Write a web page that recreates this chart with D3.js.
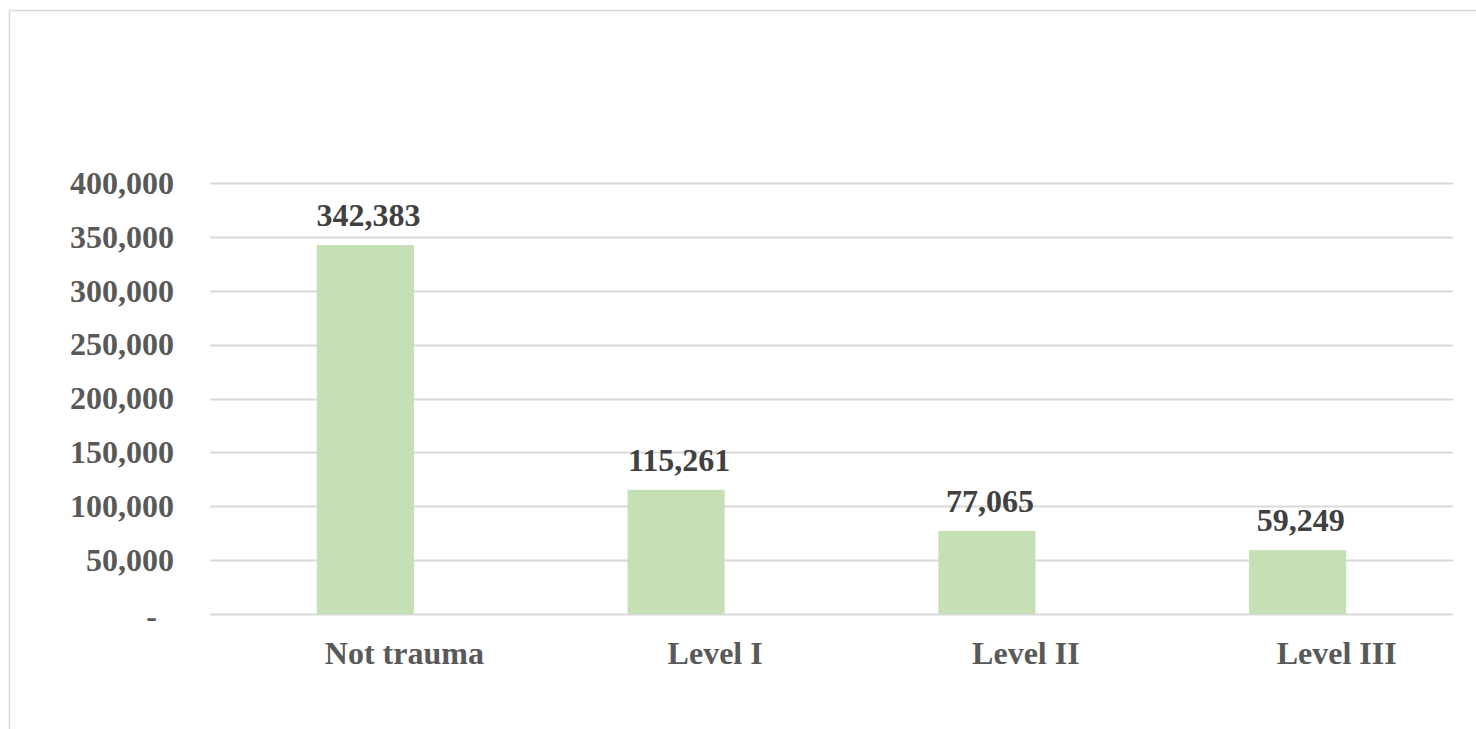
<!DOCTYPE html>
<html>
<head>
<meta charset="utf-8">
<script src="https://cdn.jsdelivr.net/npm/d3@7"></script>
<style>
  body { margin: 0; background: #fff; }
  svg { display: block; }
  .tick text { font-family: "Liberation Serif", "Times New Roman", serif; font-weight: bold; }
</style>
</head>
<body>
<div id="chart"></div>
<script>
// data
var categories = ["Not trauma", "Level I", "Level II", "Level III"];
var values = [342383, 115261, 77065, 59249];
var yTicks = [0, 50000, 100000, 150000, 200000, 250000, 300000, 350000, 400000];

var W = 1476, H = 729;
var margin = {top: 183, right: 23, bottom: 115, left: 210};
var width = W - margin.left - margin.right,
    height = H - margin.top - margin.bottom;

var svg = d3.select("#chart").append("svg")
    .attr("width", W)
    .attr("height", H);

// outer chart border (right/bottom run past the window)
svg.append("rect")
    .attr("x", 9.5).attr("y", 10.5)
    .attr("width", W + 20).attr("height", H + 20)
    .attr("fill", "none")
    .attr("stroke", "#d9d9d9")
    .attr("stroke-width", 1.5);

var g = svg.append("g")
    .attr("transform", "translate(" + margin.left + "," + margin.top + ")");

var x = d3.scaleBand()
    .domain(categories)
    .range([0, width])
    .paddingInner(0.6875)
    .paddingOuter(0.34375);

var y = d3.scaleLinear()
    .domain([0, 400000])
    .range([height, 0]);

var fmt = d3.format(",");

// gridlines
g.append("g")
  .selectAll("line")
  .data(yTicks)
  .join("line")
    .attr("x1", 0).attr("x2", width)
    .attr("y1", function(d) { return Math.round(y(d)) + 0.5; })
    .attr("y2", function(d) { return Math.round(y(d)) + 0.5; })
    .attr("stroke", "#d9d9d9")
    .attr("stroke-width", 2);

// y axis (labels only)
var yAxis = g.append("g")
    .call(d3.axisLeft(y).tickValues(yTicks).tickSize(0).tickPadding(36)
      .tickFormat(function(d) { return d === 0 ? "-" : fmt(d); }));
yAxis.select(".domain").remove();
yAxis.selectAll("text")
    .attr("fill", "#595959")
    .style("font-size", "32px")
    .attr("dy", "0.32em");
yAxis.selectAll(".tick").filter(function(d) { return d === 0; })
    .select("text").attr("dx", "-17px").attr("dy", "0.4em");

// bars
g.selectAll(".bar")
  .data(values)
  .join("rect")
    .attr("class", "bar")
    .attr("x", function(d, i) { return x(categories[i]); })
    .attr("width", x.bandwidth())
    .attr("y", function(d) { return y(d); })
    .attr("height", function(d) { return height - y(d); })
    .attr("fill", "#c5e0b4");

// value labels
g.selectAll(".val")
  .data(values)
  .join("text")
    .attr("class", "val")
    .attr("x", function(d, i) { return x(categories[i]) + x.bandwidth() / 2 + 3; })
    .attr("y", function(d) { return y(d) - 19; })
    .attr("text-anchor", "middle")
    .attr("fill", "#404040")
    .style("font-family", "'Liberation Serif', 'Times New Roman', serif")
    .style("font-weight", "bold")
    .style("font-size", "32px")
    .text(function(d) { return fmt(d); });

// x axis (labels only, shifted right like the original)
var xAxis = g.append("g")
    .attr("transform", "translate(0," + height + ")")
    .call(d3.axisBottom(x).tickSize(0).tickPadding(27));
xAxis.select(".domain").remove();
xAxis.selectAll("text")
    .attr("fill", "#595959")
    .attr("dx", "39px")
    .style("font-size", "32px");
</script>
</body>
</html>
